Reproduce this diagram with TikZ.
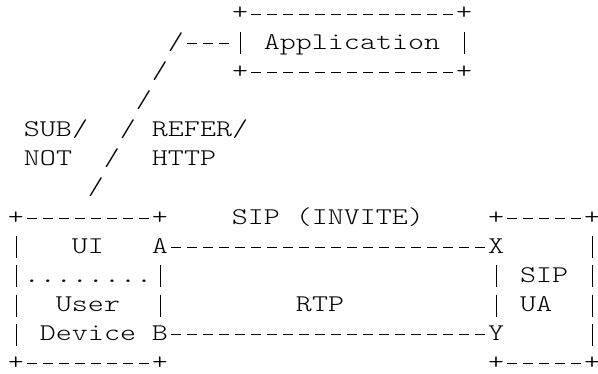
\documentclass[tikz,border=0pt]{standalone}
\usepackage{fontspec}
\newfontfamily\asciifont[FakeStretch=1.27]{lmmonolt10-regular.otf}
\tikzset{
  ch/.style={font=\fontsize{24pt}{24pt}\asciifont, inner sep=0pt, anchor=base},
  hyph/.style={line width=0.9pt, dash pattern=on 10pt off 6pt, dash phase=13pt},
  bar/.style={line width=0.9pt, dash pattern=on 22pt off 7.15pt, dash phase=22pt}
}
\begin{document}
\begin{tikzpicture}[x=16pt,y=-29.15pt]
  \useasboundingbox (-1,-0.686) rectangle (36.375,12.144);
  % application box
  \node[ch] (apptl) at (14,0) {+};
  \node[ch] (apptr) at (28,0) {+};
  \node[ch] (appbl) at (14,2) {+};
  \node[ch] (appbr) at (28,2) {+};
  \node[ch] (app) at (21,1) {Application};
  \coordinate (appin) at (13.5,1);
  \draw[hyph] ([yshift=6pt]apptl.base east) -- ([yshift=6pt]apptr.base west);
  \draw[hyph] ([yshift=6pt]appbl.base east) -- ([yshift=6pt]appbr.base west);
  \draw[bar] ([yshift=-5pt]apptl.base) -- ([yshift=17pt]appbl.base);
  \draw[bar] ([yshift=-5pt]apptr.base) -- ([yshift=17pt]appbr.base);
  % slashes up to the application
  \foreach \i in {1,...,6}
    \node[ch] (s\i) at ({11-\i},\i) {/};
  \draw[hyph] ([yshift=6pt]s1.base east) -- ([yshift=6pt]appin);
  \node[ch] (sub) at (2.5,4) {SUB/};
  \node[ch] (nott) at (2,5) {NOT};
  \node[ch] (refer) at (11.5,4) {REFER/};
  \node[ch] (http) at (10.5,5) {HTTP};
  % user device
  \node[ch] (dtl) at (0,7) {+};
  \node[ch] (dtr) at (9,7) {+};
  \node[ch] (dbl) at (0,12) {+};
  \node[ch] (dbr) at (9,12) {+};
  \node[ch] (ui) at (4.5,8) {UI};
  \node[ch] (dots) at (4.5,9) {........};
  \node[ch] (user) at (4.5,10) {User};
  \node[ch] (device) at (4.5,11) {Device};
  \node[ch] (A) at (9,8) {A};
  \node[ch] (B) at (9,11) {B};
  \draw[hyph] ([yshift=6pt]dtl.base east) -- ([yshift=6pt]dtr.base west);
  \draw[hyph] ([yshift=6pt]dbl.base east) -- ([yshift=6pt]dbr.base west);
  \draw[bar] ([yshift=-5pt]dtl.base) -- ([yshift=17pt]dbl.base);
  \draw[bar] ([yshift=-5pt]A.base) -- ([yshift=17pt]B.base);
  % SIP UA
  \node[ch] (utl) at (30,7) {+};
  \node[ch] (utr) at (36,7) {+};
  \node[ch] (ubl) at (30,12) {+};
  \node[ch] (ubr) at (36,12) {+};
  \node[ch] (sip) at (33,9) {SIP};
  \node[ch] (ua) at (32.5,10) {UA};
  \node[ch] (X) at (30,8) {X};
  \node[ch] (Y) at (30,11) {Y};
  \draw[hyph] ([yshift=6pt]utl.base east) -- ([yshift=6pt]utr.base west);
  \draw[hyph] ([yshift=6pt]ubl.base east) -- ([yshift=6pt]ubr.base west);
  \draw[bar] ([yshift=-5pt]utr.base) -- ([yshift=17pt]ubr.base);
  \draw[bar] ([yshift=-5pt]X.base) -- ([yshift=17pt]Y.base);
  % sessions
  \node[ch] (sipinv) at (19.5,7) {SIP (INVITE)};
  \node[ch] (rtp) at (19,10) {RTP};
  \draw[hyph] ([yshift=6pt]A.base east) -- ([yshift=6pt]X.base west);
  \draw[hyph] ([yshift=6pt]B.base east) -- ([yshift=6pt]Y.base west);
\end{tikzpicture}
\end{document}
